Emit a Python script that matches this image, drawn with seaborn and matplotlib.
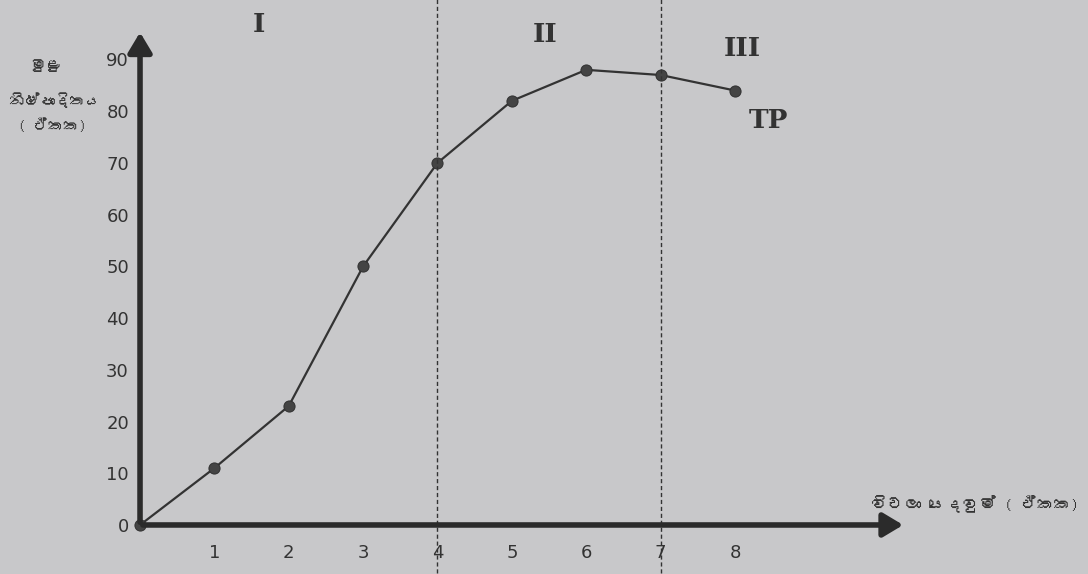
import matplotlib
matplotlib.use("Agg")
import matplotlib.pyplot as plt
import seaborn as sns
import pandas as pd
from matplotlib import font_manager
from matplotlib.ft2font import FT2Font

# Data
inputs = [0, 1, 2, 3, 4, 5, 6, 7, 8]
total_product = [0, 11, 23, 50, 70, 82, 88, 87, 84]
y_ticks = [0, 10, 20, 30, 40, 50, 60, 70, 80, 90]
x_ticks = [1, 2, 3, 4, 5, 6, 7, 8]
stage_bounds = [4, 7]
stage_names = ["I", "II", "III"]

y_label_lines = ["මුළු", "නිෂ්පාදිතය", "( ඒකක)"]
x_label = "විචලා යෙදවුම් ( ඒකක)"


def find_sinhala_font():
    for f in font_manager.fontManager.ttflist:
        try:
            if FT2Font(f.fname).get_char_index(0x0DB8):
                return f.name
        except Exception:
            pass
    return None


sns.set_theme(style="white")
sin_font = find_sinhala_font()
sin_family = [sin_font, "DejaVu Sans"] if sin_font else ["DejaVu Sans"]

bg = "#c8c8ca"
ink = "#2b2b2b"

fig = plt.figure(figsize=(10.88, 5.74), dpi=100, facecolor=bg)
ax = fig.add_axes([0.1287, 0.0854, 0.704, 0.838])
ax.set_facecolor(bg)

df = pd.DataFrame({"input": inputs, "tp": total_product})
sns.lineplot(data=df, x="input", y="tp", ax=ax, color="#333333", linewidth=1.6,
             marker="o", markersize=8, markerfacecolor="#444444",
             markeredgecolor="#333333", clip_on=False)

ax.set_xlim(0, 10.3)
ax.set_ylim(0, 93)
for s in ax.spines.values():
    s.set_visible(False)

ax.set_xticks(x_ticks)
ax.set_yticks(y_ticks)
ax.tick_params(axis="both", length=0, labelsize=13, labelcolor="#333333")
ax.tick_params(axis="x", pad=14)
ax.tick_params(axis="y", pad=8)
ax.set_xlabel("")
ax.set_ylabel("")

# axes as thick arrows
ax.annotate("", xy=(0, 1.03), xytext=(0, 0), xycoords="axes fraction",
            arrowprops=dict(arrowstyle="-|>,head_length=1.0,head_width=0.6",
                            color=ink, lw=4), annotation_clip=False)
ax.annotate("", xy=(1.0, 0), xytext=(0, 0), xycoords="axes fraction",
            arrowprops=dict(arrowstyle="-|>,head_length=1.0,head_width=0.6",
                            color=ink, lw=4), annotation_clip=False)

# stage boundaries
for b in stage_bounds:
    ax.axvline(b, ymin=-0.1, ymax=1.2, color="#333333", lw=1.0,
               linestyle=(0, (3, 2)), clip_on=False)

# stage labels
stage_pos = [(1.6, 1.04), (5.45, 1.02), (8.1, 0.99)]
for name, (sx, sy) in zip(stage_names, stage_pos):
    ax.text(sx, sy, name, transform=ax.get_xaxis_transform(), ha="center",
            va="center", fontsize=19, fontweight="bold", color="#333333",
            family="DejaVu Serif")
ax.text(8.45, 0.84, "TP", transform=ax.get_xaxis_transform(), ha="center",
        va="center", fontsize=19, fontweight="bold", color="#333333",
        family="DejaVu Serif")

# axis titles
fig.text(45 / 1088, 1 - 66 / 574, y_label_lines[0], ha="center", va="center",
         fontsize=11, color="#333333", family=sin_family)
fig.text(55 / 1088, 1 - 100 / 574, y_label_lines[1], ha="center", va="center",
         fontsize=11, color="#333333", family=sin_family)
fig.text(52 / 1088, 1 - 126 / 574, y_label_lines[2], ha="center", va="center",
         fontsize=11, color="#333333", family=sin_family)
fig.text(975 / 1088, 1 - 504 / 574, x_label, ha="center", va="center",
         fontsize=12, color="#333333", family=sin_family)

fig.savefig("out.png", dpi=100, facecolor=bg)
